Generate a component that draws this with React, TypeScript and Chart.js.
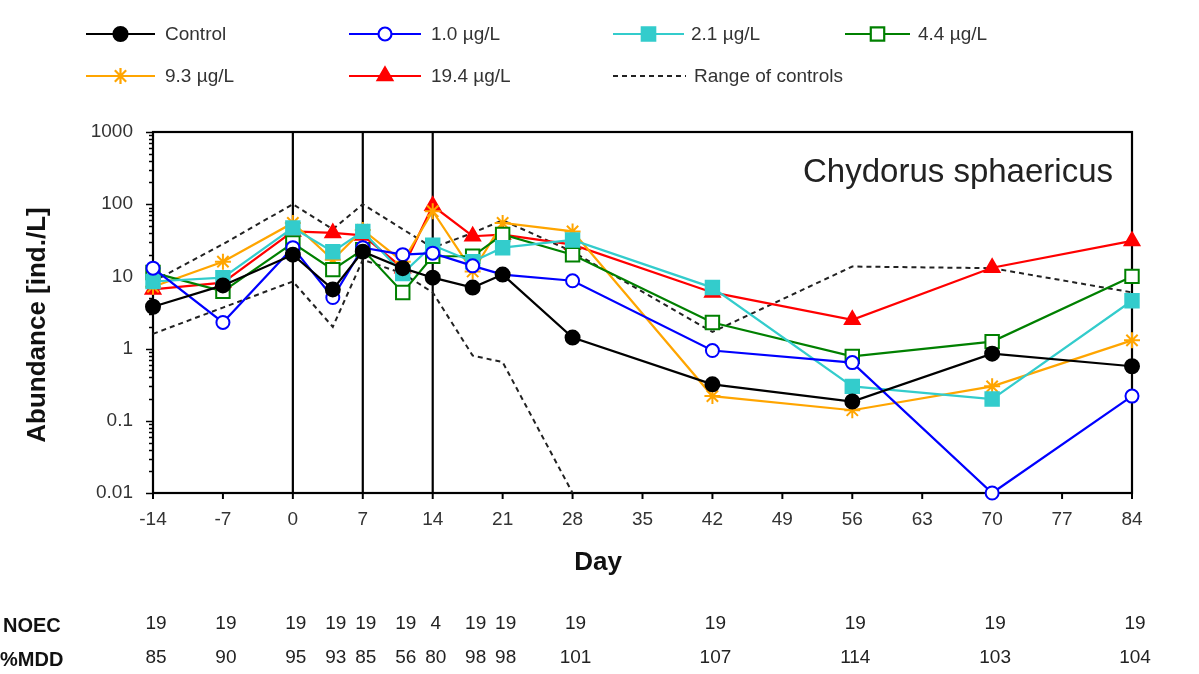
import React, { useEffect, useRef } from 'react';
import { Chart, registerables } from 'chart.js';
import { drawPoint } from 'chart.js/helpers';

Chart.register(...registerables);

// ---------- data ----------
const days = [-14, -7, 0, 4, 7, 11, 14, 18, 21, 28, 42, 56, 70, 84];
const control = [3.8, 7.5, 20, 6.6, 22, 13, 9.6, 7.0, 10.6, 1.42, 0.32, 0.185, 0.85, 0.57];
const conc1_0 = [13, 2.3, 25, 5.1, 25, 20, 21, 14, 10.6, 8.7, 0.94, 0.64, 0.01, 0.22];
const conc2_1 = [8.5, 9.6, 47, 22, 42, 11, 27, 16, 25, 32, 7, 0.3, 0.2, 4.6];
const conc4_4 = [11.3, 6.2, 29, 12.4, 23.5, 6, 19, 19, 38, 20, 2.3, 0.78, 1.25, 10];
const conc9_3 = [7.2, 16, 55, 17, 44, 16, 80, 11.7, 55, 42, 0.22, 0.14, 0.3, 1.3];
const conc19_4 = [6.6, 8.2, 42, 40, 37, 13, 95, 36, 38, 27.5, 6, 2.5, 13.2, 31];
const rangeUpper = [8.5, 28, 100, 45, 100, 45, 25, 40, 60, 22, 1.7, 13.7, 13, 6];
const rangeLower = [1.6, 3.7, 8.5, 2.0, 17, 11, 6, 0.8, 0.65, 0.01, null, null, null, null];

const xTicks = [-14, -7, 0, 7, 14, 21, 28, 35, 42, 49, 56, 63, 70, 77, 84];
const yTicks = [0.01, 0.1, 1, 10, 100, 1000];
const yTickLabels = ['0.01', '0.1', '1', '10', '100', '1000'];
const exposureDays = [0, 7, 14];
const noecValues = ['19', '19', '19', '19', '19', '19', '4', '19', '19', '19', '19', '19', '19', '19'];
const mddValues = ['85', '90', '95', '93', '85', '56', '80', '98', '98', '101', '107', '114', '103', '104'];
const speciesName = 'Chydorus sphaericus';
const seriesLabels = ['Control', '1.0 µg/L', '2.1 µg/L', '4.4 µg/L', '9.3 µg/L', '19.4 µg/L'];
const rangeLabel = 'Range of controls';

const FONT = '"Liberation Sans", Arial, Helvetica, sans-serif';

const seriesStyles = [
  { color: '#000000', fill: '#000000', style: 'circle', radius: 7 },
  { color: '#0000ff', fill: '#ffffff', style: 'circle', radius: 6.5 },
  { color: '#33cccc', fill: '#33cccc', style: 'rect', radius: 9.5 },
  { color: '#008000', fill: '#ffffff', style: 'rect', radius: 9.5 },
  { color: '#ffa500', fill: '#ffa500', style: 'star', radius: 8 },
  { color: '#ff0000', fill: '#ff0000', style: 'triangle', radius: 8.5 },
];
const seriesData = [control, conc1_0, conc2_1, conc4_4, conc9_3, conc19_4];

const toPoints = (vals: (number | null)[]) => days.map((d, i) => ({ x: d, y: vals[i] }));

const overlayPlugin = {
  id: 'overlay',
  beforeDatasetsDraw(chart: any) {
    const { ctx, chartArea: a, scales } = chart;
    const x = scales.x;
    const y = scales.y;
    ctx.save();
    ctx.strokeStyle = '#000';
    ctx.lineWidth = 2.2;
    const line = (x1: number, y1: number, x2: number, y2: number) => {
      ctx.beginPath();
      ctx.moveTo(x1, y1);
      ctx.lineTo(x2, y2);
      ctx.stroke();
    };
    exposureDays.forEach((d) => {
      const px = x.getPixelForValue(d);
      line(px, a.top, px, a.bottom);
    });
    ctx.strokeRect(a.left, a.top, a.right - a.left, a.bottom - a.top);
    ctx.lineWidth = 1.5;
    for (let e = -2; e <= 3; e++) {
      for (let m = 1; m <= 9; m++) {
        const v = m * Math.pow(10, e);
        if (v > 1000.0001) break;
        const py = Math.round(y.getPixelForValue(v)) + 0.5;
        const len = m === 1 ? 7 : 4;
        line(a.left - len, py, a.left, py);
      }
    }
    ctx.lineWidth = 2;
    xTicks.forEach((d) => {
      const px = x.getPixelForValue(d);
      line(px, a.bottom, px, a.bottom + 6);
    });
    ctx.restore();
  },
  afterDraw(chart: any) {
    const { ctx, chartArea: a, scales } = chart;
    const x = scales.x;
    ctx.save();
    // species label
    ctx.fillStyle = '#222';
    ctx.font = `33px ${FONT}`;
    ctx.textAlign = 'right';
    ctx.textBaseline = 'middle';
    ctx.fillText(speciesName, a.right - 19, 173);

    // axis titles
    ctx.fillStyle = '#111';
    ctx.font = `bold 26px ${FONT}`;
    ctx.textAlign = 'center';
    ctx.fillText('Day', 598, 563);
    ctx.save();
    ctx.translate(38, 325);
    ctx.rotate(-Math.PI / 2);
    ctx.fillText('Abundance [ind./L]', 0, 0);
    ctx.restore();

    // legend
    const slots = [
      { x1: 86, x2: 155, tx: 165, y: 34 },
      { x1: 349, x2: 421, tx: 431, y: 34 },
      { x1: 613, x2: 684, tx: 691, y: 34 },
      { x1: 845, x2: 910, tx: 918, y: 34 },
      { x1: 86, x2: 155, tx: 165, y: 76 },
      { x1: 349, x2: 421, tx: 431, y: 76 },
      { x1: 613, x2: 686, tx: 694, y: 76 },
    ];
    ctx.font = `19px ${FONT}`;
    ctx.textAlign = 'left';
    ctx.textBaseline = 'middle';
    seriesLabels.forEach((lab, i) => {
      const s = seriesStyles[i];
      const sl = slots[i];
      ctx.strokeStyle = s.color;
      ctx.lineWidth = 2.2;
      ctx.setLineDash([]);
      ctx.beginPath();
      ctx.moveTo(sl.x1, sl.y);
      ctx.lineTo(sl.x2, sl.y);
      ctx.stroke();
      ctx.fillStyle = s.fill;
      ctx.strokeStyle = s.color;
      drawPoint(ctx, { pointStyle: s.style, radius: s.radius, borderWidth: 2, rotation: 0 } as any, (sl.x1 + sl.x2) / 2, sl.y);
      ctx.fillStyle = '#333';
      ctx.fillText(lab, sl.tx, sl.y + 1);
    });
    const rs = slots[6];
    ctx.strokeStyle = '#222';
    ctx.lineWidth = 2;
    ctx.setLineDash([5, 4]);
    ctx.beginPath();
    ctx.moveTo(rs.x1, rs.y);
    ctx.lineTo(rs.x2, rs.y);
    ctx.stroke();
    ctx.setLineDash([]);
    ctx.fillStyle = '#333';
    ctx.fillText(rangeLabel, rs.tx, rs.y + 1);

    // table
    ctx.fillStyle = '#111';
    ctx.font = `bold 20px ${FONT}`;
    ctx.textAlign = 'left';
    ctx.fillText('NOEC', 3, 626);
    ctx.fillText('%MDD', 0, 660);
    ctx.font = `19px ${FONT}`;
    ctx.textAlign = 'center';
    ctx.fillStyle = '#222';
    days.forEach((d, i) => {
      const px = x.getPixelForValue(d);
      ctx.fillText(noecValues[i], px + 3, 624);
      ctx.fillText(mddValues[i], px + 3, 658);
    });
    ctx.restore();
  },
};

export default function App() {
  const ref = useRef<HTMLCanvasElement>(null);
  useEffect(() => {
    if (!ref.current) return;
    const datasets: any[] = seriesLabels.map((lab, i) => {
      const s = seriesStyles[i];
      return {
        label: lab,
        data: toPoints(seriesData[i]),
        borderColor: s.color,
        backgroundColor: s.fill,
        borderWidth: 2.2,
        pointStyle: s.style,
        pointRadius: s.radius,
        pointBorderWidth: 2,
        pointBorderColor: s.color,
        pointBackgroundColor: s.fill,
        tension: 0,
        clip: false,
      };
    });
    [rangeUpper, rangeLower].forEach((vals) => {
      datasets.push({
        label: rangeLabel,
        data: toPoints(vals),
        borderColor: '#222',
        borderWidth: 2,
        borderDash: [5, 4],
        pointRadius: 0,
        tension: 0,
        clip: false,
        spanGaps: false,
      });
    });
    const chart = new Chart(ref.current, {
      type: 'line',
      data: { datasets },
      options: {
        animation: false,
        responsive: false,
        events: [],
        layout: { padding: { left: 0, top: 132, right: 67, bottom: 0 } },
        plugins: { legend: { display: false }, tooltip: { enabled: false } },
        scales: {
          x: {
            type: 'linear',
            min: -14,
            max: 84,
            afterBuildTicks: (s: any) => {
              s.ticks = xTicks.map((v) => ({ value: v }));
            },
            afterFit: (s: any) => {
              s.height = 181;
            },
            grid: { display: false, drawTicks: false },
            border: { display: false },
            ticks: {
              font: { size: 19, family: FONT },
              color: '#333',
              padding: 15,
              maxRotation: 0,
              autoSkip: false,
              callback: (v: any) => String(v),
            },
          },
          y: {
            type: 'logarithmic',
            min: 0.01,
            max: 1000,
            afterBuildTicks: (s: any) => {
              s.ticks = yTicks.map((v) => ({ value: v }));
            },
            afterFit: (s: any) => {
              s.width = 153;
            },
            grid: { display: false, drawTicks: false },
            border: { display: false },
            ticks: {
              font: { size: 19, family: FONT },
              color: '#333',
              padding: 20,
              autoSkip: false,
              callback: (v: any) => {
                const idx = yTicks.findIndex((t) => Math.abs(t - v) / t < 1e-6);
                return idx >= 0 ? yTickLabels[idx] : '';
              },
            },
          },
        },
      },
      plugins: [overlayPlugin],
    } as any);
    return () => chart.destroy();
  }, []);
  return (
    <div style={{ position: 'absolute', left: 0, top: 0, width: 1199, height: 674, background: '#fff' }}>
      <canvas ref={ref} width={1199} height={674} style={{ display: 'block' }} />
    </div>
  );
}
